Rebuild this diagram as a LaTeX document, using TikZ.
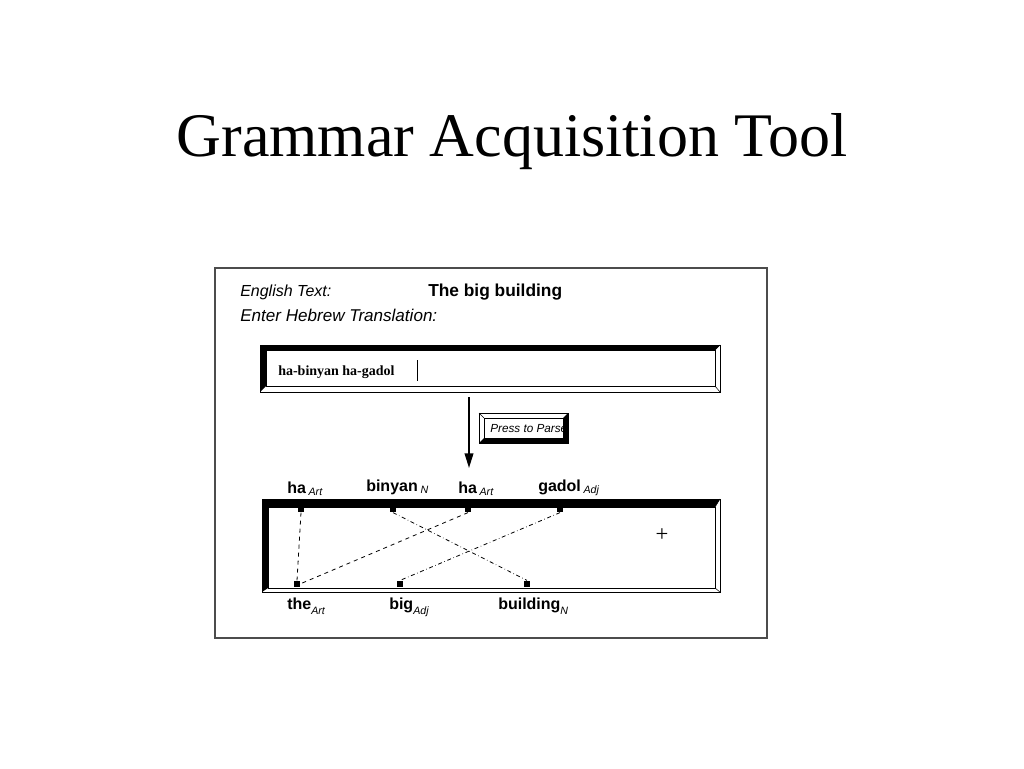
\documentclass[tikz,border=0pt]{standalone}
\usepackage{fontspec}
\setmainfont{Liberation Serif}
\setsansfont{Liberation Sans}
\usetikzlibrary{arrows.meta}

\tikzset{
  guitext/.style={font=\sffamily\fontsize{12}{14}\selectfont, inner sep=0pt, anchor=base west},
  wordlbl/.style={font=\sffamily\bfseries\fontsize{12}{14}\selectfont, inner sep=0pt, anchor=base west},
  tickmark/.style={fill=black, minimum width=4pt, minimum height=5pt, inner sep=0pt},
  linkdash/.style={dashed, line width=0.6pt},
  linkdot/.style={dash dot, line width=0.6pt},
}
\newcommand{\toptag}[1]{\,{\mdseries\itshape\fontsize{8}{8}\selectfont\raisebox{-1.5pt}{#1}}}
\newcommand{\lowtag}[1]{{\mdseries\itshape\fontsize{8}{8}\selectfont\raisebox{-4pt}{#1}}}

\begin{document}
\begin{tikzpicture}[x=0.75pt,y=-0.75pt]
\useasboundingbox (0,0) rectangle (1024,768);

% Title
\node[font=\fontsize{46.5}{52}\selectfont, anchor=base, inner sep=0pt] (title) at (512,156) {Grammar Acquisition Tool};

% Outer window frame
\draw[black!70, line width=1.2pt] (215,268) rectangle (767,638);

% Header texts
\node[guitext, font=\sffamily\itshape\fontsize{12}{14}\selectfont] (engLbl) at (240,296) {English Text:};
\node[guitext, font=\sffamily\bfseries\fontsize{13}{14}\selectfont] (engTxt) at (428,296) {The big building};
\node[guitext, font=\sffamily\itshape\fontsize{12.8}{14}\selectfont] (hebLbl) at (240,321) {Enter Hebrew Translation:};

% Input box with bevel
\fill (260,345) -- (720,345) -- (715,350) -- (266,350) -- (266,386) -- (260,392) -- cycle;
\draw (260,345) rectangle (720,392);
\draw (266,350) rectangle (715,386);
\draw (715,350) -- (720,345) (715,386) -- (720,392);
\node[font=\bfseries\fontsize{10.5}{12}\selectfont, inner sep=0pt, anchor=base west] (hebIn) at (278,375) {ha-binyan ha-gadol};
\draw (417,360) -- (417,381);

% Parse button
\fill (568,413) -- (568,443) -- (479,443) -- (484,438) -- (563,438) -- (563,418) -- cycle;
\draw (479,413) rectangle (568,443);
\draw (484,418) rectangle (563,438);
\draw (479,413) -- (484,418);
\begin{scope}
\clip (484,418) rectangle (563,438);
\node[font=\sffamily\itshape\fontsize{8.8}{10}\selectfont, inner sep=0pt, anchor=base west] (parseBtn) at (490,432) {Press to Parse};
\end{scope}

% Arrow down to parse result
\coordinate (arrTop) at (469,397);
\coordinate (arrEnd) at (469,468);
\draw[line width=1.3pt, -{Triangle[length=11pt,width=6.5pt]}] (arrTop) -- (arrEnd);

% Result box with bevel
\fill (262,499) -- (720,499) -- (715,507) -- (268,507) -- (268,588) -- (262,592) -- cycle;
\draw (262,499) rectangle (720,592);
\draw (268,507) rectangle (715,588);
\draw (715,507) -- (720,499) (715,588) -- (720,592);
\node[font=\fontsize{17}{17}\selectfont, inner sep=0pt] (cursor) at (662,535) {+};

% Hebrew words (top)
\node[wordlbl] (hHa) at (287,493) {ha\toptag{Art}};
\node[wordlbl] (hBinyan) at (366,491) {binyan\toptag{N}};
\node[wordlbl] (hHa2) at (458,493) {ha\toptag{Art}};
\node[wordlbl] (hGadol) at (538,491) {gadol\toptag{Adj}};

% English words (bottom)
\node[wordlbl] (eThe) at (287,609) {the\lowtag{Art}};
\node[wordlbl] (eBig) at (389,609) {big\lowtag{Adj}};
\node[wordlbl] (eBuilding) at (498,609) {building\lowtag{N}};

% Attachment ticks
\node[tickmark] (tHa) at (301,509) {};
\node[tickmark] (tBinyan) at (393,509) {};
\node[tickmark] (tHa2) at (468,509) {};
\node[tickmark] (tGadol) at (560,509) {};
\node[tickmark] (tThe) at (297,584) {};
\node[tickmark] (tBig) at (400,584) {};
\node[tickmark] (tBuilding) at (527,584) {};

% Alignment links
\draw[linkdash] (tHa.south) -- (tThe.north);
\draw[linkdash] (tHa2.south) -- (tThe.east);
\draw[linkdot] (tBinyan.south) -- (tBuilding.north);
\draw[linkdot] (tGadol.south) -- (tBig.north);
\end{tikzpicture}
\end{document}
